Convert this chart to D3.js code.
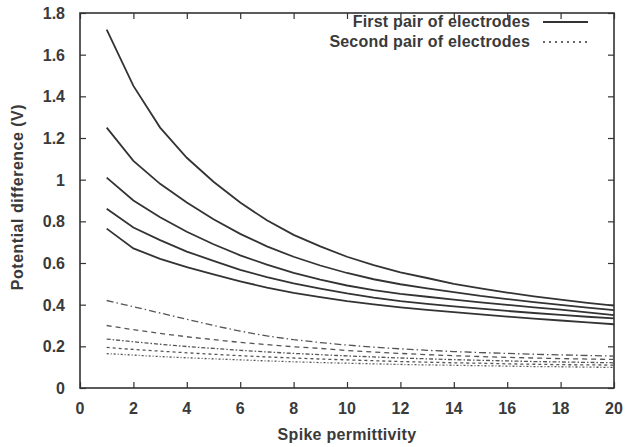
<!DOCTYPE html>
<html><head><meta charset="utf-8">
<script src="https://cdn.jsdelivr.net/npm/d3@7"></script>
<style>body{margin:0;background:#fff}svg{display:block}text{font-family:"Liberation Sans",Arial,sans-serif;fill:#3a3a3a;font-weight:bold}</style>
</head><body><svg id="c" width="627" height="447"></svg>
<script>
const permittivity = [1,2,3,4,5,6,7,8,9,10,11,12,13,14,15,16,17,18,19,20];
const firstPair = [
  [1.72,1.45,1.25,1.105,0.99,0.89,0.805,0.735,0.68,0.63,0.59,0.555,0.528,0.50,0.478,0.458,0.44,0.424,0.409,0.395],
  [1.25,1.09,0.98,0.89,0.81,0.74,0.68,0.63,0.588,0.552,0.522,0.498,0.478,0.46,0.442,0.427,0.412,0.399,0.386,0.374],
  [1.01,0.90,0.82,0.75,0.69,0.637,0.592,0.553,0.52,0.492,0.47,0.452,0.438,0.424,0.411,0.399,0.387,0.376,0.363,0.35],
  [0.86,0.77,0.71,0.655,0.61,0.567,0.532,0.502,0.477,0.454,0.434,0.417,0.404,0.392,0.381,0.37,0.36,0.351,0.342,0.334],
  [0.765,0.67,0.62,0.58,0.545,0.512,0.482,0.457,0.436,0.417,0.401,0.387,0.375,0.364,0.353,0.343,0.333,0.324,0.315,0.306]
];
const secondPair = [
  [0.42,0.39,0.36,0.33,0.30,0.273,0.25,0.232,0.218,0.206,0.196,0.188,0.181,0.175,0.17,0.166,0.162,0.159,0.156,0.153],
  [0.30,0.28,0.262,0.246,0.232,0.219,0.208,0.198,0.19,0.18,0.173,0.166,0.16,0.155,0.151,0.147,0.144,0.141,0.139,0.137],
  [0.235,0.222,0.21,0.199,0.19,0.181,0.173,0.166,0.16,0.154,0.149,0.144,0.14,0.136,0.133,0.13,0.127,0.125,0.123,0.121],
  [0.195,0.185,0.177,0.169,0.162,0.155,0.149,0.144,0.139,0.135,0.131,0.127,0.124,0.121,0.119,0.116,0.114,0.112,0.111,0.11],
  [0.165,0.158,0.151,0.145,0.14,0.135,0.13,0.126,0.122,0.119,0.116,0.113,0.111,0.109,0.107,0.105,0.103,0.102,0.1,0.099]
];
const xTicks = [0,2,4,6,8,10,12,14,16,18,20];
const yTicks = [0,0.2,0.4,0.6,0.8,1,1.2,1.4,1.6,1.8];
const legendLabels = ["First pair of electrodes","Second pair of electrodes"];
const xTitle = "Spike permittivity";
const yTitle = "Potential difference (V)";

const svg = d3.select("#c");
const m = {l:80, r:614, t:13, b:388};
const x = d3.scaleLinear().domain([0,20]).range([m.l,m.r]);
const y = d3.scaleLinear().domain([0,1.8]).range([m.b,m.t]);
const ink = "#333";

const g = svg.append("g");
const tl = 6;
g.append("g").attr("transform",`translate(0,${m.b})`).call(d3.axisBottom(x).tickValues(xTicks).tickSize(-tl).tickFormat(""));
g.append("g").attr("transform",`translate(0,${m.t})`).call(d3.axisTop(x).tickValues(xTicks).tickSize(-tl).tickFormat(""));
g.append("g").attr("transform",`translate(${m.l},0)`).call(d3.axisLeft(y).tickValues(yTicks).tickSize(-tl).tickFormat(""));
g.append("g").attr("transform",`translate(${m.r},0)`).call(d3.axisRight(y).tickValues(yTicks).tickSize(-tl).tickFormat(""));
g.selectAll(".domain").remove();
g.selectAll(".tick line").attr("stroke",ink).attr("stroke-width",1.2);

svg.append("rect").attr("x",m.l).attr("y",m.t).attr("width",m.r-m.l).attr("height",m.b-m.t)
  .attr("fill","none").attr("stroke",ink).attr("stroke-width",1.6);

svg.append("g").selectAll("text").data(xTicks).join("text")
  .attr("x",d=>x(d)).attr("y",m.b+26).attr("text-anchor","middle")
  .attr("font-size",16).text(d=>d);
svg.append("g").selectAll("text").data(yTicks).join("text")
  .attr("x",m.l-15).attr("y",d=>y(d)+6).attr("text-anchor","end")
  .attr("font-size",16).text(d=>d3.format("~g")(d));

svg.append("text").attr("x",(m.l+m.r)/2).attr("y",440).attr("text-anchor","middle")
  .attr("font-size",16).attr("letter-spacing",0.3).text(xTitle);
svg.append("text").attr("transform",`translate(23,${197}) rotate(-90)`)
  .attr("text-anchor","middle").attr("font-size",16).attr("letter-spacing",0.5).text(yTitle);

const line = d3.line().x((d,i)=>x(permittivity[i])).y(d=>y(d));
svg.append("g").selectAll("path").data(firstPair).join("path")
  .attr("d",line).attr("fill","none").attr("stroke",ink).attr("stroke-width",1.8);

const dashes = ["7,3,1.5,3","5,4","4,2,1.5,2","3,3","2,2,1,2"];
svg.append("g").selectAll("path").data(secondPair).join("path")
  .attr("d",line).attr("fill","none").attr("stroke","#555").attr("stroke-width",1.3)
  .attr("stroke-dasharray",(d,i)=>dashes[i]);

const lg = svg.append("g");
[0,1].forEach(i=>{
  const yy = 22 + i*20;
  lg.append("text").attr("x",530).attr("y",yy+5).attr("text-anchor","end")
    .attr("font-size",16).attr("letter-spacing",0.2).text(legendLabels[i]);
  lg.append("line").attr("x1",543).attr("x2",588).attr("y1",yy).attr("y2",yy)
    .attr("stroke",ink).attr("stroke-width",i?1.3:1.8)
    .attr("stroke-dasharray",i?"2,4":null);
});
</script></body></html>
